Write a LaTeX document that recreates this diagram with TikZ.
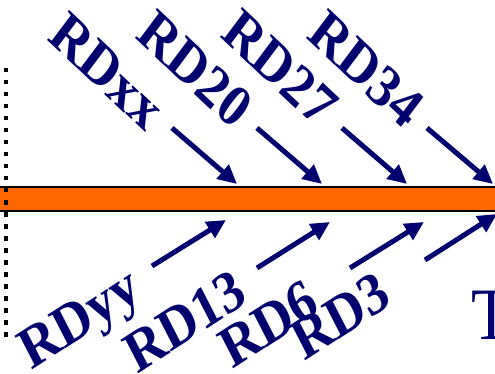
\documentclass[tikz,border=0pt]{standalone}
\usepackage{fontspec}
\setmainfont{Liberation Serif}
\usetikzlibrary{arrows.meta}
\definecolor{navy}{RGB}{0,0,110}
\definecolor{bandorange}{RGB}{255,102,0}
\tikzset{
  lbl/.style={text=navy, font=\fontsize{53}{53}\selectfont\bfseries, inner sep=0pt, transform shape},
  toplbl/.style={lbl, rotate=-40},
  botlbl/.style={lbl, rotate=30},
  ptr/.style={navy, line width=5pt, -{Triangle[length=19pt,width=18pt]}},
}
\begin{document}
\begin{tikzpicture}[x=1pt,y=-1pt]
\useasboundingbox (0,0) rectangle (495,374);
\clip (0,0) rectangle (495,374);
% band
\fill[bandorange] (-5,187) rectangle (500,211);
\draw[line width=2.8pt] (-5,187) -- (500,187);
\draw[line width=2.8pt] (-5,211) -- (500,211);
% dotted vertical
\coordinate (dtop) at (6,68);
\coordinate (dbot) at (6,338);
\draw[line width=4.5pt, dash pattern=on 4.5pt off 7.5pt] (dtop) -- (dbot);
% labels (slightly stretched vertically, as in the reference)
\begin{scope}[yscale=1.12]
\node[toplbl] (rdxx) at (107,71/1.12) {RDxx};
\node[toplbl] (rd20) at (195,69/1.12) {RD20};
\node[toplbl] (rd27) at (280,68/1.12) {RD27};
\node[toplbl] (rd34) at (366,69/1.12) {RD34};
\node[botlbl] (rdyy) at (82,323/1.12) {RDyy};
\node[botlbl] (rd13) at (185,321/1.12) {RD13};
\node[botlbl] (rd6) at (268,324/1.12) {RD6};
\node[botlbl] (rd3) at (340,316/1.12) {RD3};
\node[text=navy, font=\fontsize{66}{66}\selectfont, inner sep=0pt, anchor=base west, transform shape] (tt) at (471,339/1.12) {T};
\end{scope}
% top arrows
\coordinate (a1s) at (172,128); \coordinate (a1e) at (237,184);
\coordinate (a2s) at (257,128); \coordinate (a2e) at (322,184);
\coordinate (a3s) at (342,128); \coordinate (a3e) at (407,184);
\coordinate (a4s) at (427,128); \coordinate (a4e) at (493,184);
\draw[ptr] (a1s) -- (a1e);
\draw[ptr] (a2s) -- (a2e);
\draw[ptr] (a3s) -- (a3e);
\draw[ptr] (a4s) -- (a4e);
% bottom arrows
\coordinate (b1s) at (152,266); \coordinate (b1e) at (226,220);
\coordinate (b2s) at (257,268); \coordinate (b2e) at (330,222);
\coordinate (b3s) at (350,268); \coordinate (b3e) at (424,222);
\coordinate (b4s) at (425,260); \coordinate (b4e) at (497,214);
\draw[ptr] (b1s) -- (b1e);
\draw[ptr] (b2s) -- (b2e);
\draw[ptr] (b3s) -- (b3e);
\draw[ptr] (b4s) -- (b4e);
\end{tikzpicture}
\end{document}
